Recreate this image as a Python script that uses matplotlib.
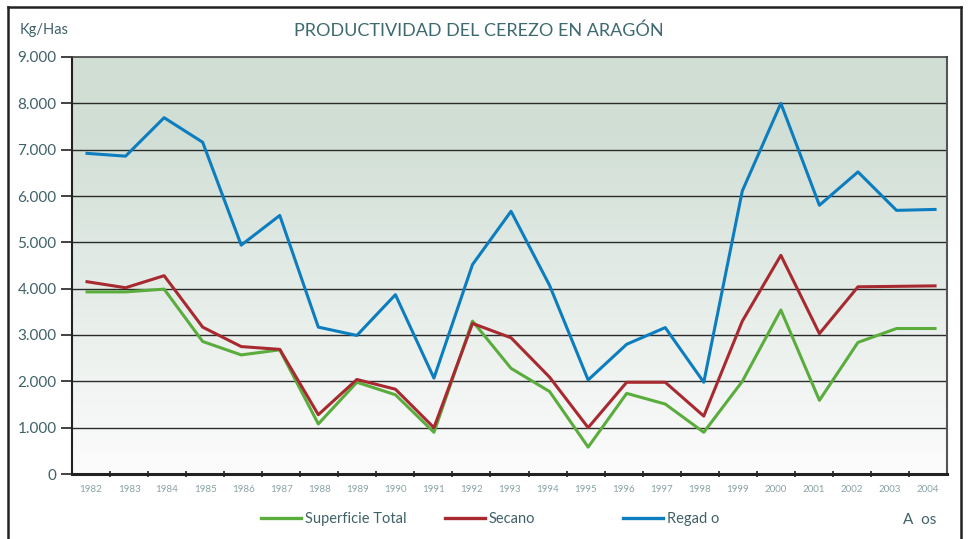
import numpy as np
import matplotlib.pyplot as plt
from matplotlib.lines import Line2D

plt.rcParams['font.family'] = ['Lato', 'DejaVu Sans']

years = [str(y) for y in range(1982, 2005)]
superficie_total = [3930, 3930, 3990, 2860, 2570, 2680, 1080, 1980, 1710, 900, 3300,
                    2280, 1780, 580, 1740, 1510, 900, 2000, 3540, 1590, 2840, 3140, 3140]
secano = [4150, 4020, 4280, 3170, 2750, 2690, 1280, 2040, 1830, 1000, 3250,
          2940, 2090, 1000, 1980, 1980, 1250, 3300, 4720, 3030, 4040, 4050, 4060]
regadio = [6920, 6860, 7690, 7160, 4940, 5580, 3170, 2990, 3870, 2070, 4520,
           5670, 4070, 2030, 2800, 3160, 1980, 6110, 8000, 5800, 6520, 5690, 5710]

yticks = [0, 1000, 2000, 3000, 4000, 5000, 6000, 7000, 8000, 9000]
ytick_labels = ['0', '1.000', '2.000', '3.000', '4.000', '5.000', '6.000', '7.000', '8.000', '9.000']

col_green = '#5aad3d'
col_red = '#a82a30'
col_blue = '#0c7dbe'
txt = '#3f6168'

fig = plt.figure(figsize=(9.68, 5.39), dpi=100)
ax = fig.add_axes([72/968, 65/539, 875/968, 417/539])

x = np.arange(len(years))
x0, x1 = -0.39, 22.31
ax.set_xlim(x0, x1)
ax.set_ylim(0, 9000)

# fondo degradado
grad = np.linspace(0, 1, 256).reshape(-1, 1)
top = np.array([0.816, 0.871, 0.835])
bot = np.array([0.988, 0.988, 0.988])
t = np.clip(grad * 1.2, 0, 1)
img = (bot + (top - bot) * t).reshape(256, 1, 3)
ax.imshow(img, extent=[x0, x1, 0, 9000], origin='lower', aspect='auto', zorder=0)

for v in yticks[1:-1]:
    ax.axhline(v, color='#2b2b2b', lw=1.0, zorder=1)

ax.plot(x, superficie_total, color=col_green, lw=2.2, zorder=3)
ax.plot(x, secano, color=col_red, lw=2.2, zorder=3)
ax.plot(x, regadio, color=col_blue, lw=2.2, zorder=3)

ax.set_yticks(yticks)
ax.set_yticklabels(ytick_labels, fontsize=11, color=txt)
ax.tick_params(axis='y', direction='out', length=8, width=1.2, color='#222222', pad=3)

w = (x1 - x0) / len(years)
ax.set_xticks([x0 + (k + 0.5) * w for k in range(len(years))])
ax.set_xticklabels(years, fontsize=7, color='#8aa2a6')
ax.set_xticks([x0 + k * w for k in range(1, len(years))], minor=True)
ax.tick_params(axis='x', which='major', length=0, pad=8)
ax.tick_params(axis='x', which='minor', direction='inout', length=5, width=1.2, color='#222222')

ax.spines['bottom'].set_linewidth(2.2)
ax.spines['bottom'].set_color('#222222')
ax.spines['left'].set_linewidth(1.5)
ax.spines['left'].set_color('#222222')
ax.spines['top'].set_linewidth(1.2)
ax.spines['top'].set_color('#444444')
ax.spines['right'].set_linewidth(1.5)
ax.spines['right'].set_color('#555555')

fig.text(479/968, 1 - 31/539, 'PRODUCTIVIDAD DEL CEREZO EN ARAGÓN', ha='center', va='center',
         fontsize=13, color='#3d6a70')
fig.text(20/968, 1 - 30/539, 'Kg/Has', ha='left', va='center', fontsize=10.5, color=txt)

# leyenda
entries = [('Superficie Total', col_green, 254), ('Secano', col_red, 438), ('Regad o', col_blue, 616)]
for label, c, px in entries:
    fig.legend(handles=[Line2D([], [], color=c, lw=2.4)], labels=[label], loc='center left',
               bbox_to_anchor=(px/968, 1 - 519/539), frameon=False, fontsize=10.5,
               handlelength=2.7, handletextpad=0.3, borderpad=0, labelcolor=txt)
fig.text(903/968, 1 - 520/539, 'A  os', ha='left', va='center', fontsize=11, color=txt)

# marco exterior
fig.add_artist(Line2D([8/968, 8/968], [0, 1 - 7/539], color='#222222', lw=1.8))
fig.add_artist(Line2D([8/968, 961/968], [1 - 7/539, 1 - 7/539], color='#222222', lw=1.8))
fig.add_artist(Line2D([961/968, 961/968], [0, 1 - 7/539], color='#222222', lw=1.8))

fig.savefig('out.png', dpi=100)
